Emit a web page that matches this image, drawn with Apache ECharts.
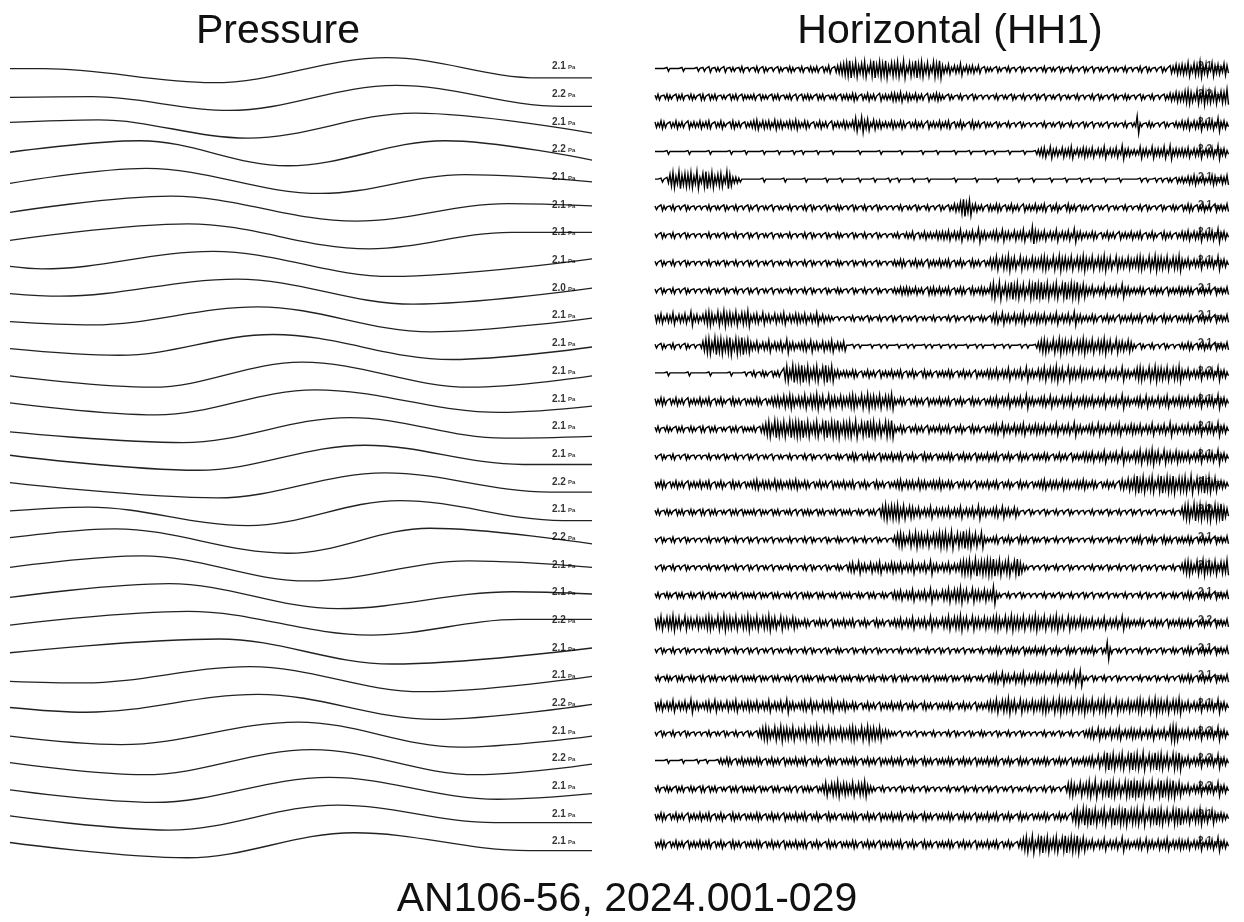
<!DOCTYPE html>
<html>
<head>
<meta charset="utf-8">
<script src="https://cdn.jsdelivr.net/npm/echarts@6/dist/echarts.min.js"></script>
<style>
  html, body { margin: 0; padding: 0; background: #ffffff; }
  #chart { width: 1244px; height: 922px; }
</style>
</head>
<body>
<div id="chart"></div>
<script>
// Station AN106-56, days 2024.001 - 2024.029, one trace per day (top = day 001).

// Pressure: turning points of each daily tide trace, [hour of day, normalised level (+1 crest, -1 trough)]
const pressureTurns = [
  [[0,0.12],[1.4,0.12],[8.37,-1],[15.55,1],[21.86,-0.62],[24,-0.62]],
  [[0,0.04],[3.4,0.1],[9.03,-1],[15.92,1],[22.8,-0.68],[24,-0.68]],
  [[0,0.25],[3.63,0.45],[9.81,-1],[16.7,1],[24,-0.6]],
  [[0,0.08],[5.36,1],[11.46,-1],[17.94,1],[24,-0.55]],
  [[0,-0.2],[5.61,1],[12.83,-1],[18.76,0.5],[24,-0.08]],
  [[0,-0.3],[6.64,1],[14.27,-1],[20.54,0.4],[24,0.22]],
  [[0,-0.32],[7.34,1],[14.8,-1],[20.66,0.32],[24,0.32]],
  [[0,-0.2],[1.32,-0.4],[8.37,1],[15.75,-1],[24,0.41]],
  [[0,-0.15],[2.06,-0.36],[9.36,1],[16.62,-1],[24,0.28]],
  [[0,-0.18],[3.38,-0.44],[10.23,1],[17.36,-1],[24,0.1]],
  [[0,-0.13],[4.5,-0.66],[10.85,1],[18.23,-1],[24,0]],
  [[0,-0.1],[5.86,-1],[12.04,1],[19.01,-1],[24,-0.1]],
  [[0,-0.04],[6.02,-1],[12.58,1],[20.21,-0.8],[24,-0.3]],
  [[0,-0.15],[7.13,-1],[14.02,1],[20.4,-0.65],[24,-0.5]],
  [[0,0.2],[7.75,-1],[14.64,1],[21.16,-0.54],[24,-0.54]],
  [[0,0.23],[8.54,-1],[15.46,1],[22.3,-0.54],[24,-0.54]],
  [[0,0.17],[3.22,0.48],[9.81,-1],[16.08,1],[22.8,-0.6],[24,-0.6]],
  [[0,0.25],[4.33,0.95],[11.46,-1],[17.32,1],[24,-0.25]],
  [[0,0.09],[5.44,1],[12.29,-1],[18.93,0.6],[24,0.09]],
  [[0,-0.1],[6.56,1],[13.53,-1],[20.74,0.35],[24,0.17]],
  [[0,-0.1],[7.34,1],[14.89,-0.9],[21.03,0.35],[24,0.35]],
  [[0,-0.1],[8.62,1],[15.75,-1],[24,0.28]],
  [[0,-0.17],[3.0,-0.3],[9.9,1],[17.03,-1],[24,0.22]],
  [[0,-0.05],[3.13,-0.43],[10.23,1],[17.53,-1],[24,0.2]],
  [[0,-0.12],[4.58,-0.8],[11.88,1],[18.56,-1],[24,-0.12]],
  [[0,-0.03],[5.53,-1],[12.45,1],[19.26,-1],[24,-0.15]],
  [[0,0],[5.94,-1],[13.16,1],[20.12,-0.75],[24,-0.3]],
  [[0,0.13],[6.56,-1],[13.53,1],[20.0,-0.4],[24,-0.4]],
  [[0,0.22],[7.3,-1],[14.19,1],[21.4,-0.43],[24,-0.43]]
];

// Horizontal HH1: peak deflection per 7.5-minute window (one digit per window, 16 windows per group)
const hh1Envelope = [
  "1111211112111121 2131221312212312 1231321213212321 2312323132413456 7958468379586947 6849375968473869 4352436243424132 2132123121321212 1231221321231213 2131221312212312 1231321213214354 5473658462745364",
  "2312321323123213 3132312213231322 2313221323122313 1323213231223132 3243132423142324 4352432423142343 2132123121321212 1231221321231213 2131221312212312 1231321213212321 2132123121324354 4675374856473658",
  "3243132423142324 2341324213423132 3452434253423435 3243132423142324 3247384625342324 3243132423142324 2341324213423132 2132123121321212 1231221321231213 2131221312212312 2921232121321232 4352436243527342",
  "1111211111121111 1121111112111121 1111211112111121 1211112111121111 1111211111121111 1121111112111121 1111211112111121 1211112111121112 3452634253462435 4352436243527342 3263426343627343 4352436243527342",
  "1121368495768493 7958467396332111 1111211111121111 1121111112111121 1111211112111121 1211112111121111 1111211111121111 1121111112111121 1111211112111121 1211112111121111 1121211212122132 3243532423542435",
  "2132123121321212 1231221321231213 2131221312212312 1231321213212321 2132123121321212 1231221321231213 2132436958342313 3243132423142324 2341324213423132 2131221312212312 1231321213212321 3243132423142324",
  "2132123121321212 1231221321231213 2131221312212312 1231321213212321 2132123121321212 2312324132423243 4352436243527342 3452634253462495 4352436243527342 3243132423142324 2341324213423132 4352436243527342",
  "2132123121321212 1231221321231213 2131221312212312 1231321213212321 2132123121321212 3243132423142324 2341324213423132 5473658462745364 4675374856473658 5473658462745364 4675374856473658 4352436243527342",
  "2132123121321212 1231221321231213 2131221312212312 1231321213212321 2132123121321212 3243432423143424 2341324313423432 6849375968473869 7958468379586947 4352436243527342 3243132423142324 3243132423142324",
  "4352436243527342 4675374856473658 3452634253462435 4352436242321212 1231221321231213 2131221312212312 1231321213212321 3452634253462435 4352436243527342 3243132423142324 2341324213423132 3243132423142324",
  "2132123121321212 5784968579486957 4352436243527342 3452634253462435 1121211121121211 1211212111212112 1121211121121211 1211212111212112 4675374856473658 5473658462745364 2132123121321212 3243132423142324",
  "1111211111121111 1121111112111121 2312321323168496 7958468379583423 3243132423142324 2341324213423132 3243132423142324 4352436243527342 5473658462745364 4352436243527342 4675374856473658 4352436243527342",
  "3243132423142324 2341324213423132 3243132445364753 5473658462745364 4675374856473658 3243132423142324 2341324213423132 4352436243527342 3452634253462435 4352436243527342 3452634253462435 4352436243527342",
  "2312321323123213 3132312213231322 2313468497584968 7958468379586947 6849375968473869 3243132423142324 2341324213423132 3452634253462435 4352436243527342 3452634253462435 4352436243527342 4352436243527342",
  "2132123121321212 1231221321231213 2131221312212312 1231321213212321 3243132423142324 2341324213423132 3243132423142324 2341324213423132 3243132423142324 4352436243527342 5473658462745364 4352436243527342",
  "3243132423142324 2341324213423132 3452434253423435 3243132423142324 2341324213423132 3452434253423435 3243132423142324 2341324213423132 3452434253423435 3243132423145364 7958468379586947 6849375968473432",
  "2312321323123213 3132312213231322 2313221323122313 1323213231223132 2312321323146857 6847365352436243 4352436243527342 3452634253121321 2132123121321212 1231221321231213 2131221312212312 5784968579486954",
  "2132123121321212 1231221321231213 2131221312212312 1231321213212321 2132123121321212 4675374856473658 6849375968473832 2341324213423132 2132123121321212 1231221321231213 2341324213423132 3243132423142324",
  "2132123121321212 1231221321231213 2131221312212312 1231321213212321 3452634253462435 4352436243527342 4352436768495768 7958468379532121 2132123121321212 1231221321231213 2131221312212312 4675374856473658",
  "2312321323123213 3132312213231322 2313221323122313 1323213231223132 2312321323123213 4352436243527342 5473658462745364 4932123121321212 1231221321231213 2131221312212312 1231321213212321 3243132423142324",
  "5473658462745364 4675374856473658 5473658462745364 3243132423142324 2341324213423132 4352436243527342 5473658462745364 4675374856473658 5473658462745364 4352436243527342 3243132423142324 3243132423142324",
  "2132123121321212 1231221321231213 2131221312212312 1231321213212321 2132123121321212 1231221321231213 2131221312212312 3243132423142324 2341324213423132 3242132931221312 1231321213212321 3243132423142324",
  "2312321323123213 3132312213231322 2313221323122313 1323213231223132 2312321323123213 3132312213231322 2313221323122313 3452634253462435 4352436243527382 2132123121321212 1231221321231213 3243132423142324",
  "4352436243527342 3452634253462435 4352436243527342 3452634253462435 3243132423142324 2341324213423132 3243132423142324 5473658462745364 4675374856473658 5473658462745364 4675374856473658 4352436243527342",
  "2132123121321212 1231221321231213 2134675374856473 5473658462745364 4675374856473432 2131221312212312 1231321213212321 2132123121321212 1231221321231213 3452634253462435 4352436243527873 4352436243527342",
  "1111211112111121 1211123243132423 3243132423142324 2341324213423132 3243132423142324 2341324213423132 3243132423142324 2341324213423132 3243132423142324 3452637958468379 6849375968473869 4352436243527342",
  "2312321323123213 3132312213231322 2313221323122313 1323213247365846 5473658432123121 2132123121321212 1231221321231213 2131221312212312 1231321213675374 6849375968473869 7958468379586947 4352436243527342",
  "3243132423142324 2341324213423132 3243132423142324 2341324213423132 3243132423142324 2341324213423132 3243132423142324 2341324213423132 3243132423146849 7958468379586947 6849375968473869 5473658462743432",
  "3243132423142324 2341324213423132 3243132423142324 2341324213423132 3243132423142324 2341324213423132 3243132423142324 2341324213468493 7958468379586947 4352436243527342 3452634253462435 4352436243527342"
];

// Per-trace scale annotations printed at the right end of each trace
const pressureScale = ["2.1","2.2","2.1","2.2","2.1","2.1","2.1","2.1","2.0","2.1","2.1","2.1","2.1","2.1","2.1","2.2","2.1","2.2","2.1","2.1","2.2","2.1","2.1","2.2","2.1","2.2","2.1","2.1","2.1"];
const hh1Scale = ["2.1","2.2","2.1","2.2","2.1","2.1","2.1","2.1","2.1","2.1","2.1","2.2","2.1","2.1","2.1","2.1","2.2","2.1","2.1","2.1","2.2","2.1","2.1","2.1","2.2","2.2","2.2","2.1","2.1"];

const panelTitles = ["Pressure", "Horizontal (HH1)"];
const figureTitle = "AN106-56, 2024.001-029";

// ---- layout ----
const rowGap = 27.68;           // px between successive day traces
const firstRowY = 68;           // centre of the top trace
const nRows = pressureTurns.length;
const pressureAmpPx = 12.5;     // half height of a normalised tide trace
const hhPxPerLevel = 0.95;      // px per envelope step
const toUnits = px => px / rowGap;

const gridTop = firstRowY - rowGap;
const gridHeight = (nRows + 1) * rowGap;

const series = [];

pressureTurns.forEach((turns, r) => {
  series.push({
    type: 'line', xAxisIndex: 0, yAxisIndex: 0,
    data: turns.map(([h, v]) => [h, r + 0.08 - v * toUnits(pressureAmpPx)]),
    smooth: 0.36, smoothMonotone: 'x',
    symbol: 'none', silent: true, animation: false,
    lineStyle: { color: '#222222', width: 1.3 }
  });
});

// HH1 traces: each window swings from its upper to its lower peak
hh1Envelope.forEach((raw, r) => {
  const env = raw.replace(/\s+/g, '');
  const step = 1440 / env.length;
  const pts = [];
  for (let i = 0; i < env.length; i++) {
    const a = toUnits(Number(env[i]) * hhPxPerLevel);
    pts.push([i * step, r + 0.05 - a]);
    pts.push([(i + 0.5) * step, r + 0.05 + a]);
  }
  series.push({
    type: 'line', xAxisIndex: 1, yAxisIndex: 1,
    data: pts, symbol: 'none', silent: true, animation: false,
    lineStyle: { color: '#000000', width: 1.4, join: 'miter' }
  });
});

const scaleLabel = {
  show: true, position: 'right', distance: 0,
  rich: {
    n: { fontFamily: 'Liberation Sans', fontSize: 10, fontWeight: 'bold', color: '#000' },
    u: { fontFamily: 'Liberation Sans', fontSize: 6, fontWeight: 'bold', color: '#000', padding: [2, 0, 0, 2] }
  }
};

series.push({
  type: 'scatter', xAxisIndex: 0, yAxisIndex: 0, symbolSize: 0, silent: true, animation: false,
  data: pressureScale.map((s, r) => ({ value: [22.35, r - 0.05], name: s })),
  label: Object.assign({}, scaleLabel, { formatter: p => '{n|' + p.name + '}{u|Pa}' }),
  z: 5
});
series.push({
  type: 'scatter', xAxisIndex: 1, yAxisIndex: 1, symbolSize: 0, silent: true, animation: false,
  data: hh1Scale.map((s, r) => ({ value: [1360, r - 0.05], name: s })),
  label: Object.assign({}, scaleLabel, { formatter: p => '{n|' + p.name + '}{u|nm}' }),
  z: 5
});

const titleFont = { fontFamily: 'Liberation Sans', fontSize: 41, fontWeight: 'normal', color: '#111' };

const option = {
  backgroundColor: '#ffffff',
  animation: false,
  title: [
    { text: panelTitles[0], left: 273, top: 6, textAlign: 'center', textStyle: titleFont },
    { text: panelTitles[1], left: 945, top: 6, textAlign: 'center', textStyle: titleFont },
    { text: figureTitle, left: 622, top: 874, textAlign: 'center', textStyle: titleFont }
  ],
  grid: [
    { left: 10, width: 582, top: gridTop, height: gridHeight },
    { left: 655, width: 575, top: gridTop, height: gridHeight }
  ],
  xAxis: [
    { type: 'value', gridIndex: 0, min: 0, max: 24, show: false },
    { type: 'value', gridIndex: 1, min: 0, max: 1440, show: false }
  ],
  yAxis: [
    { type: 'value', gridIndex: 0, min: -1, max: nRows, inverse: true, show: false },
    { type: 'value', gridIndex: 1, min: -1, max: nRows, inverse: true, show: false }
  ],
  series: series
};

const chart = echarts.init(document.getElementById('chart'), null, { renderer: 'canvas' });
chart.setOption(option);
</script>
</body>
</html>
